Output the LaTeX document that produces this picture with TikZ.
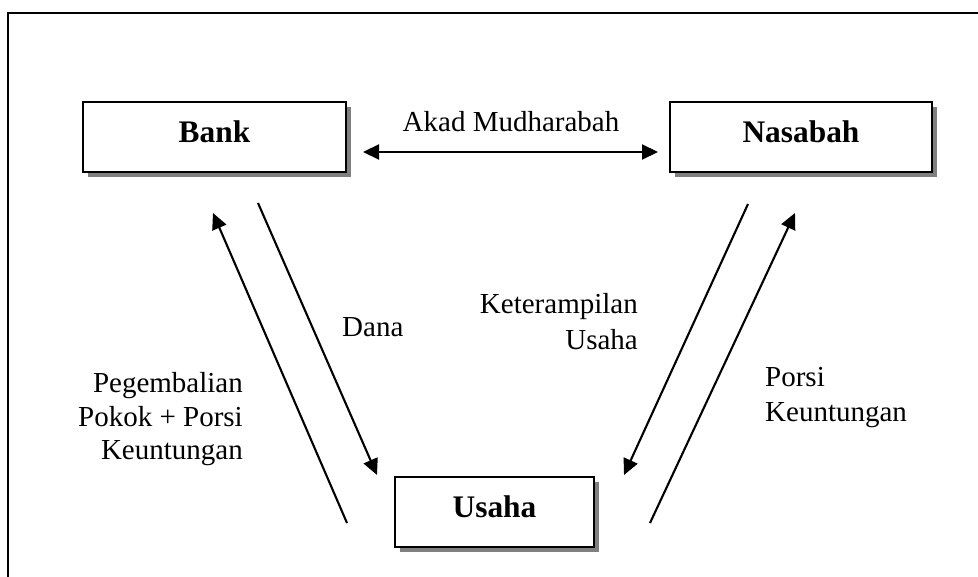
\documentclass[tikz,border=0pt]{standalone}
\usepackage{fontspec}
\setmainfont{Liberation Serif}
\usetikzlibrary{arrows.meta,shadows}
\begin{document}
\begin{tikzpicture}[x=1pt,y=-1pt,
  box/.style={draw=black, line width=2pt, fill=white, minimum width=#1,
    minimum height=70pt, inner sep=0pt, text height=19pt, text depth=8pt,
    drop shadow={shadow xshift=5pt, shadow yshift=-5pt, fill=black!50, opacity=1},
    font=\fontsize{31.4}{34}\selectfont\bfseries},
  lbl/.style={inner sep=0pt, font=\fontsize{29}{#1}\selectfont},
  tip/.style={},
  flow/.style={line width=2.1pt, -{Triangle[length=16pt,width=15pt]}},
  frame/.style={line width=2.5pt, line cap=butt}
]
\useasboundingbox (0,0) rectangle (978,577);
% frame
\coordinate (fbl) at (8,577);
\coordinate (ftl) at (8,13);
\coordinate (ftr) at (978,13);
\draw[frame] (fbl) -- (ftl) -- (ftr);

% boxes
\node[box=263] (bank) at (214.5,137) {Bank};
\node[box=262] (nasabah) at (801,137.5) {Nasabah};
\node[box=199] (usaha) at (494.5,512) {Usaha};

% arrow end points
\coordinate (akL) at (363,152);
\coordinate (akR) at (658,152);
\coordinate (danaS) at (258,203);
\coordinate (danaE) at (377,475);
\coordinate (pegS) at (347,523);
\coordinate (pegE) at (213,213);
\coordinate (ketS) at (748,204);
\coordinate (ketE) at (624,475);
\coordinate (porS) at (650,523);
\coordinate (porE) at (795,213);

\draw[flow, {Triangle[length=16pt,width=15pt]}-{Triangle[length=16pt,width=15pt]}] (akL) -- (akR);
\draw[flow] (danaS) -- (danaE);
\draw[flow] (pegS) -- (pegE);
\draw[flow] (ketS) -- (ketE);
\draw[flow] (porS) -- (porE);

% labels (base anchor of multi-line nodes = last line)
\node[lbl=34, anchor=base] (akad) at (511,132) {Akad Mudharabah};
\node[lbl=34, anchor=base west] (dana) at (342,337) {Dana};
\node[lbl=33.5, anchor=base east, align=right] (peg) at (243,460) {Pegembalian\\Pokok + Porsi\\Keuntungan};
\node[lbl=36, anchor=base east, align=right] (ket) at (638,350) {Keterampilan\\Usaha};
\node[lbl=35, anchor=base west, align=left] (por) at (765,421) {Porsi\\Keuntungan};
\end{tikzpicture}
\end{document}
